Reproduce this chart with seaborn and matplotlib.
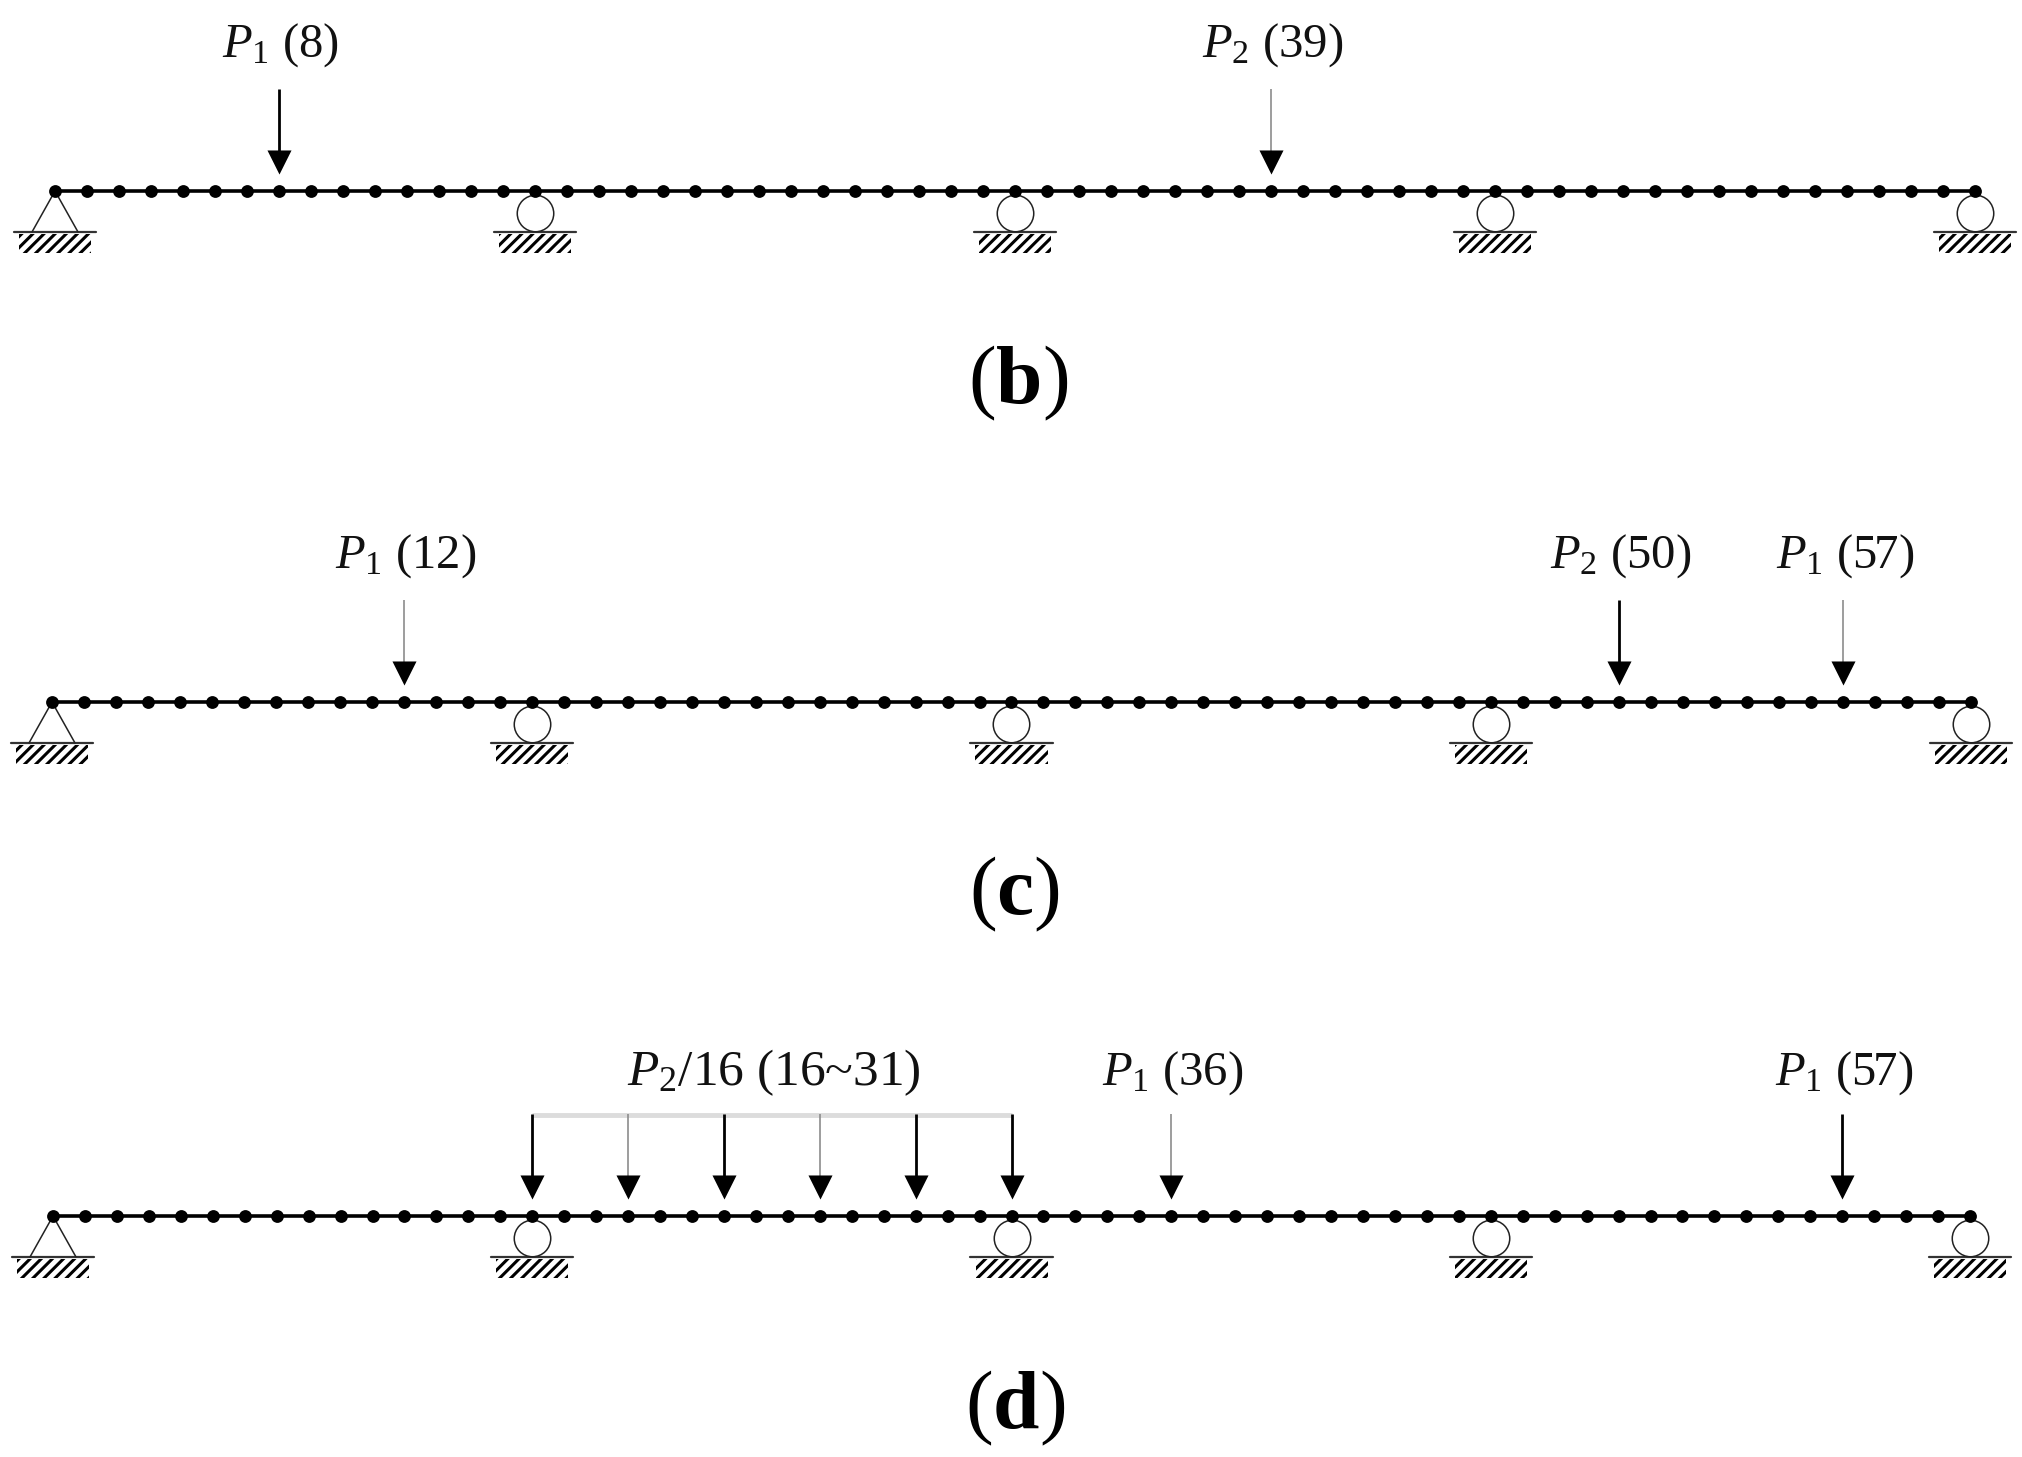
import numpy as np
import pandas as pd
import matplotlib.pyplot as plt
from matplotlib.patches import Rectangle
import seaborn as sns

sns.set_style('white')
plt.rcParams['font.family'] = ['Liberation Serif', 'DejaVu Serif']
plt.rcParams['mathtext.fontset'] = 'custom'
plt.rcParams['mathtext.rm'] = 'Liberation Serif'
plt.rcParams['mathtext.it'] = 'Liberation Serif:italic'
plt.rcParams['mathtext.bf'] = 'Liberation Serif:bold'
plt.rcParams['hatch.linewidth'] = 2.2

# beam model
n_elements = 60
support_nodes = [0, 15, 30, 45, 60]

# loads, node index counted from the left support
b_load_nodes = [7, 38]
b_load_dark = [True, False]
b_labels = [r'$P_1$ (8)', r'$P_2$ (39)']
b_label_nodes = [7, 38]

c_load_nodes = [11, 49, 56]
c_load_dark = [False, True, False]
c_labels = [r'$P_1$ (12)', r'$P_2$ (50)', r'$P_1$ (57)']
c_label_nodes = [11, 49, 56]

d_load_nodes = [15, 18, 21, 24, 27, 30, 35, 56]
d_load_dark = [True, False, True, False, True, True, False, True]
d_labels = [r'$P_2$/16 (16~31)', r'$P_1$ (36)', r'$P_1$ (57)']
d_label_nodes = [22.5, 35, 56]
d_bracket = [15, 30]

W, H = 2022, 1457


def draw_panel(top, bottom, x0, x60, beam_y, loads, dark, labels, label_nodes,
               caption, label_h=146, bracket=None):
    ax = plt.gcf().add_axes([0, 1 - bottom / H, 1, (bottom - top) / H])
    step = (x60 - x0) / n_elements
    ax.set_xlim(-x0 / step, (W - x0) / step)
    ax.set_ylim(beam_y - bottom, beam_y - top)
    ax.axis('off')

    nodes = pd.DataFrame({'node': np.arange(n_elements + 1), 'h': 0.0})
    sns.lineplot(data=nodes, x='node', y='h', color='black', lw=2.6, ax=ax, zorder=3)
    sns.scatterplot(data=nodes, x='node', y='h', color='black', s=85, linewidth=0,
                    ax=ax, zorder=4)

    # supports
    half_ground = 41 / step
    half_hatch = 36 / step
    for i, node in enumerate(support_nodes):
        if i == 0:
            ax.plot([node - 23 / step, node, node + 23 / step], [-41, 0, -41],
                    color='#222222', lw=1.1, zorder=2)
        else:
            sns.scatterplot(x=[node], y=[-22], s=690, color='white', edgecolor='#222222',
                            linewidth=1.1, ax=ax, zorder=2)
        ax.plot([node - half_ground, node + half_ground], [-41, -41],
                color='#333333', lw=1.6, zorder=1)
        ax.add_patch(Rectangle((node - half_hatch, -62), 2 * half_hatch, 19, fill=False,
                               hatch='///', edgecolor='black', lw=0, zorder=1))

    # loads
    if bracket is not None:
        ax.plot(bracket, [101, 101], color='#dcdcdc', lw=3.5, solid_capstyle='butt', zorder=1)
    for node, is_dark in zip(loads, dark):
        ax.vlines(node, 36, 102, color='black' if is_dark else '#8c8c8c',
                  lw=2.0 if is_dark else 1.2, zorder=2)
    sns.scatterplot(x=loads, y=[29] * len(loads), marker='v', s=300, color='black',
                    linewidth=0, ax=ax, zorder=3)

    for node, text in zip(label_nodes, labels):
        size = 37 if '16~31' in text else 35
        ax.text(node + 0.05, label_h, text, fontsize=size, color='#111111',
                ha='center', va='center')
    ax.text(30.1, -192, caption, fontsize=60, color='black', ha='center', va='center')
    ax.set_xlabel('')
    ax.set_ylabel('')


fig = plt.figure(figsize=(W / 100, H / 100), dpi=100, facecolor='white')
draw_panel(0, 486, 55, 1975, 191, b_load_nodes, b_load_dark, b_labels, b_label_nodes,
           r'($\mathbf{b}$)')
draw_panel(486, 970, 52, 1971, 702, c_load_nodes, c_load_dark, c_labels, c_label_nodes,
           r'($\mathbf{c}$)')
draw_panel(970, 1457, 53, 1970, 1216, d_load_nodes, d_load_dark, d_labels, d_label_nodes,
           r'($\mathbf{d}$)', label_h=143, bracket=d_bracket)

fig.savefig('out.png', dpi=100)
